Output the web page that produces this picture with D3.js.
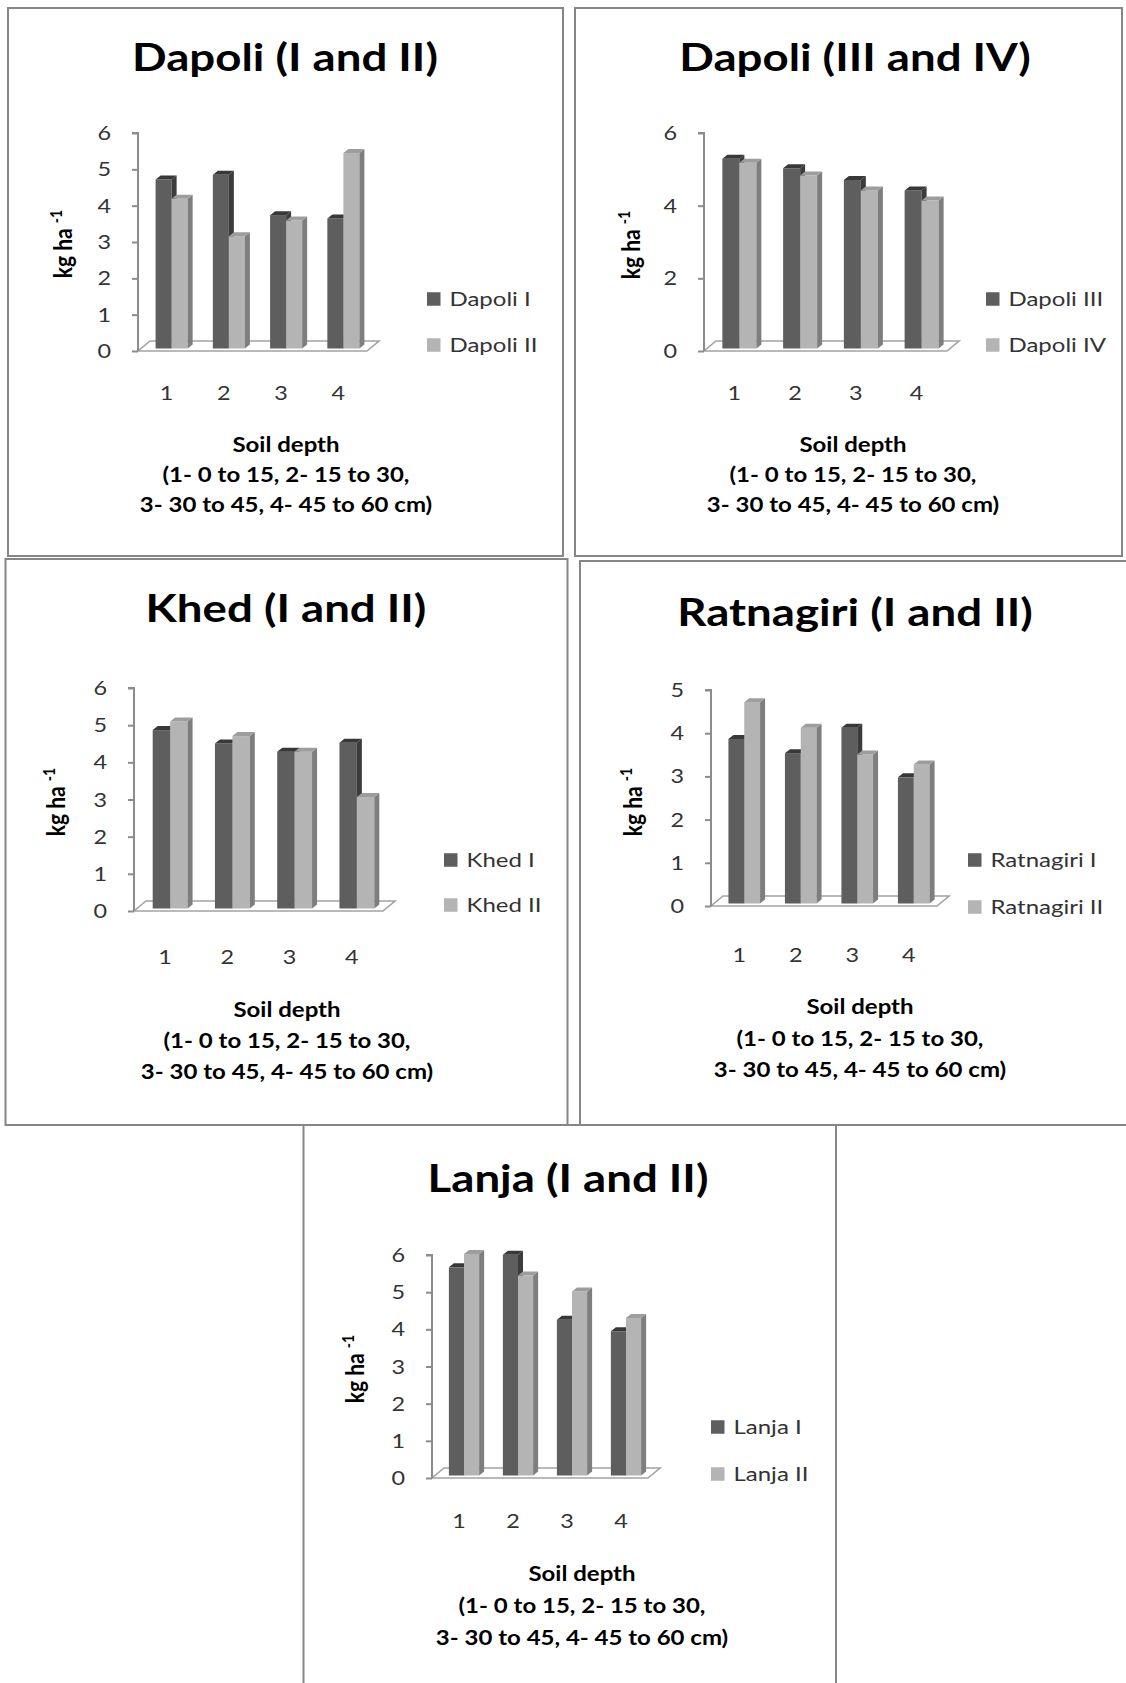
<!DOCTYPE html>
<html>
<head>
<meta charset="utf-8">
<script src="https://cdn.jsdelivr.net/npm/d3@7"></script>
<style>
  body { margin: 0; background: #fff; }
  svg { display: block; }
  text { font-family: Lato, "Open Sans", sans-serif; }
</style>
</head>
<body>
<svg id="chart" width="1126" height="1683"></svg>
<script>
// data
const depthLabels = ['1', '2', '3', '4'];
const chartTitles = ['Dapoli (I and II)', 'Dapoli (III and IV)', 'Khed (I and II)', 'Ratnagiri (I and II)', 'Lanja (I and II)'];
const seriesNames = [
    ['Dapoli I', 'Dapoli II'],
    ['Dapoli III', 'Dapoli IV'],
    ['Khed I', 'Khed II'],
    ['Ratnagiri I', 'Ratnagiri II'],
    ['Lanja I', 'Lanja II']
];
const dapoliI = [4.65, 4.78, 3.67, 3.58];
const dapoliII = [4.12, 3.09, 3.52, 5.38];
const dapoliIII = [5.22, 4.96, 4.64, 4.35];
const dapoliIV = [5.11, 4.76, 4.35, 4.07];
const khedI = [4.80, 4.44, 4.22, 4.46];
const khedII = [5.03, 4.64, 4.22, 3.00];
const ratnagiriI = [3.81, 3.48, 4.07, 2.92];
const ratnagiriII = [4.66, 4.07, 3.45, 3.22];
const lanjaI = [5.60, 5.94, 4.19, 3.88];
const lanjaII = [5.96, 5.38, 4.95, 4.24];
const chartValues = [[dapoliI, dapoliII], [dapoliIII, dapoliIV], [khedI, khedII], [ratnagiriI, ratnagiriII], [lanjaI, lanjaII]];
const yMaxes = [6, 6, 6, 5, 6];
const yTickValues = [[0, 1, 2, 3, 4, 5, 6], [0, 2, 4, 6], [0, 1, 2, 3, 4, 5, 6], [0, 1, 2, 3, 4, 5], [0, 1, 2, 3, 4, 5, 6]];
const yAxisTitle = 'kg ha ';
const yAxisSup = '-1';
const xAxisTitle = ['Soil depth', '(1- 0 to 15, 2- 15 to 30,', '3- 30 to 45, 4- 45 to 60 cm)'];

// layout of each panel on the page
const panels = [
    { box: [8, 8, 555, 548], x0: 138, x1: 367, yTop: 133, y0: 351, titleX: 285, titleY: 71, labX: 72, labY: 244, tickY: 393, legX: 427, legY: [299, 345], subX: 286, subY: 452, gap: 30 },
    { box: [575, 8, 547, 548], x0: 704, x1: 947, yTop: 133, y0: 351, titleX: 855, titleY: 71, labX: 640, labY: 245, tickY: 393, legX: 986, legY: [299, 345], subX: 853, subY: 452, gap: 30 },
    { box: [5.5, 559, 562, 566], x0: 134, x1: 383, yTop: 688, y0: 911, titleX: 286, titleY: 622, labX: 65, labY: 802, tickY: 957, legX: 444, legY: [860, 905], subX: 287, subY: 1017, gap: 31 },
    { box: [580, 561, 560, 564], x0: 711, x1: 937, yTop: 690, y0: 906, titleX: 855, titleY: 626, labX: 642, labY: 802, tickY: 955, legX: 968, legY: [860, 907], subX: 860, subY: 1014, gap: 31.5 },
    { box: [303.5, 1125, 532.5, 570], x0: 432, x1: 648, yTop: 1255, y0: 1478, titleX: 568, titleY: 1192, labX: 364, labY: 1369, tickY: 1521, legX: 711, legY: [1427, 1474], subX: 582, subY: 1581, gap: 32 }
];

const SX = 1.2; // the source figure is stretched sideways
const DEPTH = { x: 12, y: -10 };
const BAR_DEPTH = { x: 5, y: -4 };
const colors = {
    front: ['#5e5e5e', '#b4b4b4'],
    side: ['#3c3c3c', '#7e7e7e'],
    top: ['#383838', '#9d9d9d']
};

const svg = d3.select('#chart');
svg.append('rect').attr('width', 1126).attr('height', 1683).attr('fill', '#fff');

function label(g, x, y, s, size, weight, anchor, fill) {
    return g.append('text')
        .attr('transform', 'translate(' + x + ',' + y + ') scale(' + SX + ',1)')
        .attr('text-anchor', anchor)
        .attr('font-size', size)
        .attr('font-weight', weight)
        .attr('fill', fill)
        .text(s);
}

function pts(arr) {
    return arr.map(p => p[0] + ',' + p[1]).join(' ');
}

panels.forEach((p, c) => {
    const g = svg.append('g').attr('class', 'panel');

    g.append('rect')
        .attr('x', p.box[0]).attr('y', p.box[1])
        .attr('width', p.box[2]).attr('height', p.box[3])
        .attr('fill', 'none').attr('stroke', '#868686').attr('stroke-width', 2);

    const x = d3.scaleBand().domain(depthLabels).range([p.x0, p.x1]).padding(0);
    const y = d3.scaleLinear().domain([0, yMaxes[c]]).range([p.y0, p.yTop]);

    // title
    label(g, p.titleX, p.titleY, chartTitles[c], 38, 'bold', 'middle', '#000');

    // floor
    g.append('polygon')
        .attr('points', pts([[p.x0, p.y0], [p.x1, p.y0], [p.x1 + DEPTH.x, p.y0 + DEPTH.y], [p.x0 + DEPTH.x, p.y0 + DEPTH.y]]))
        .attr('fill', '#fff').attr('stroke', '#a3a3a3').attr('stroke-width', 1.6);

    // value axis
    const axis = d3.axisLeft(y).tickValues(yTickValues[c]).tickSize(6).tickFormat('');
    const ag = g.append('g').attr('transform', 'translate(' + p.x0 + ',0)').call(axis);
    ag.select('.domain').attr('d', 'M-6,' + p.yTop + 'H0V' + p.y0).attr('stroke', '#8c8c8c').attr('stroke-width', 2);
    ag.selectAll('.tick line').attr('stroke', '#8c8c8c').attr('stroke-width', 2);

    yTickValues[c].forEach(t => {
        label(g, p.x0 - 27, y(t) + 7, String(t), 19.5, 'normal', 'end', '#333');
    });

    // bars
    const vals = chartValues[c];
    const bw = x.bandwidth() * 0.28;
    const items = depthLabels.flatMap((d, i) => vals.map((series, s) => ({ d: d, s: s, v: series[i] })));
    g.selectAll('g.bar')
        .data(items)
        .join('g')
        .attr('class', 'bar')
        .each(function(b) {
            const bg = d3.select(this);
            const xl = x(b.d) + x.bandwidth() / 2 + 5 - bw + b.s * bw;
            const xr = xl + bw;
            const yb = p.y0 - 2.5;
            const yt = y(b.v) - 2.5;
            bg.append('rect')
                .attr('x', xl).attr('y', yt).attr('width', bw).attr('height', yb - yt)
                .attr('fill', colors.front[b.s]);
            bg.append('polygon')
                .attr('points', pts([[xr, yt], [xr + BAR_DEPTH.x, yt + BAR_DEPTH.y], [xr + BAR_DEPTH.x, yb + BAR_DEPTH.y], [xr, yb]]))
                .attr('fill', colors.side[b.s]);
            bg.append('polygon')
                .attr('points', pts([[xl, yt], [xl + BAR_DEPTH.x, yt + BAR_DEPTH.y], [xr + BAR_DEPTH.x, yt + BAR_DEPTH.y], [xr, yt]]))
                .attr('fill', colors.top[b.s]);
        });

    // category labels
    depthLabels.forEach(d => {
        label(g, x(d) + x.bandwidth() / 2, p.tickY + 7, d, 19.5, 'normal', 'middle', '#333');
    });

    // y axis title, rotated
    const yl = g.append('text')
        .attr('transform', 'translate(' + p.labX + ',' + p.labY + ') scale(' + SX + ',1) rotate(-90)')
        .attr('text-anchor', 'middle')
        .attr('font-size', 21)
        .attr('font-weight', 'bold')
        .attr('fill', '#000');
    yl.append('tspan').text(yAxisTitle);
    yl.append('tspan').attr('font-size', 14).attr('dy', -8).text(yAxisSup);

    // x axis title
    xAxisTitle.forEach((line, k) => {
        label(g, p.subX, p.subY + k * p.gap, line, 20, 'bold', 'middle', '#000');
    });

    // legend
    seriesNames[c].forEach((name, s) => {
        g.append('rect')
            .attr('x', p.legX).attr('y', p.legY[s] - 6.75)
            .attr('width', 13.5).attr('height', 13.5)
            .attr('fill', colors.front[s]);
        label(g, p.legX + 22.5, p.legY[s] + 7, name, 20, 'normal', 'start', '#333');
    });
});
</script>
</body>
</html>
